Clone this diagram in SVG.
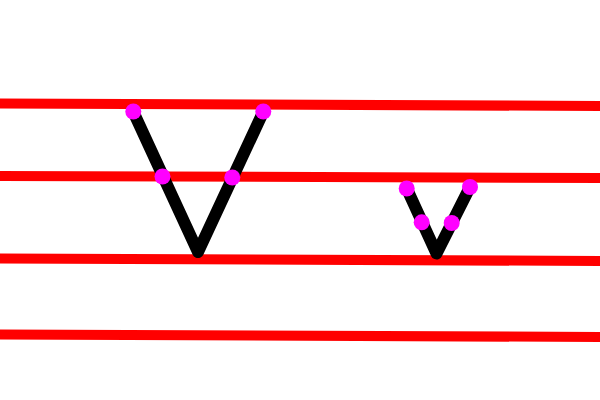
<svg xmlns="http://www.w3.org/2000/svg" width="600" height="400" viewBox="0 0 600 400">
<style>
.guide{stroke:#ff0000;stroke-width:10;fill:none}
.stroke{stroke:#000;stroke-width:12;fill:none;stroke-linecap:round;stroke-linejoin:round}
.dot{fill:#ff00ff}
</style>
<rect width="600" height="400" fill="#fff"/>
<g id="guides">
<line class="guide" x1="0" y1="103.5" x2="600" y2="106"/>
<line class="guide" x1="0" y1="176" x2="600" y2="178"/>
<line class="guide" x1="0" y1="258.5" x2="600" y2="261"/>
<line class="guide" x1="0" y1="334.5" x2="600" y2="337"/>
</g>
<g id="bigV">
<polyline class="stroke" points="133.3,111.7 198,252 263.3,111.7"/>
<circle class="dot" cx="133.3" cy="111.5" r="8"/>
<circle class="dot" cx="162.5" cy="176.5" r="8"/>
<circle class="dot" cx="232.3" cy="177.5" r="8"/>
<circle class="dot" cx="263.3" cy="111.5" r="8"/>
</g>
<g id="smallV">
<polyline class="stroke" points="407,189 436.5,253.5 470,187"/>
<circle class="dot" cx="406.7" cy="188.5" r="8"/>
<circle class="dot" cx="421.7" cy="222.3" r="8"/>
<circle class="dot" cx="451.7" cy="223" r="8"/>
<circle class="dot" cx="470" cy="187" r="8"/>
</g>
</svg>
